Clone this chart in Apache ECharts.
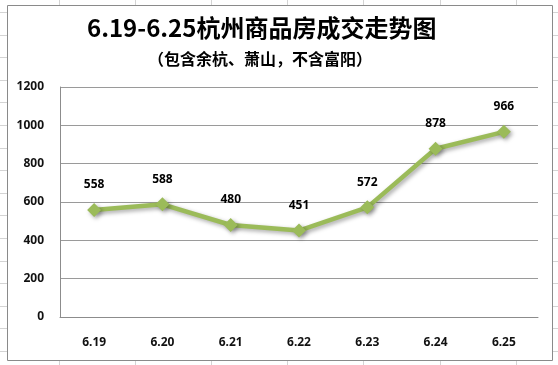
<!DOCTYPE html>
<html>
<head>
<meta charset="utf-8">
<script src="https://cdn.jsdelivr.net/npm/echarts@6/dist/echarts.min.js"></script>
<style>html,body{margin:0;padding:0;background:#fff;}#c{width:558px;height:365px;}</style>
</head>
<body>
<div id="c"></div>
<script>
const categories = ['6.19','6.20','6.21','6.22','6.23','6.24','6.25'];
const values = [558, 588, 480, 451, 572, 878, 966];
const titleText = '6.19-6.25杭州商品房成交走势图';
const subtitleText = '（包含余杭、萧山，不含富阳）';

const chart = echarts.init(document.getElementById('c'), null, {renderer: 'canvas'});

const bg = [];
const cols = [59, 135, 211, 287, 363, 440, 516];
cols.forEach(x => bg.push({type:'line', shape:{x1:x+0.5,y1:0,x2:x+0.5,y2:365}, style:{stroke:'#d4d4d4', lineWidth:1}, z:-200, silent:true}));
for (let y = 12; y < 365; y += 22.6) {
  bg.push({type:'line', shape:{x1:0,y1:Math.round(y)+0.5,x2:558,y2:Math.round(y)+0.5}, style:{stroke:'#d4d4d4', lineWidth:1}, z:-200, silent:true});
}
bg.push({type:'rect', shape:{x:7.5, y:5.5, width:545, height:355}, style:{fill:'#fff', stroke:'#8a8a8a', lineWidth:1}, z:-100, silent:true});

chart.setOption({
  animation: false,
  backgroundColor: '#fff',
  graphic: bg,
  title: [
    {text: titleText, left: 82, top: 11,
     textStyle:{fontFamily:'"Noto Sans CJK SC"', fontWeight:'bold', fontSize:24, color:'#000'}},
    {text: subtitleText, left: 143, top: 46,
     textStyle:{fontFamily:'"Noto Sans CJK SC"', fontWeight:'bold', fontSize:16, color:'#000'}}
  ],
  grid: {left: 60, right: 20, top: 87, bottom: 48},
  xAxis: {
    type: 'category', data: categories, boundaryGap: true,
    axisLine: {show: true, lineStyle:{color:'#8c8c8c', width:1}},
    axisTick: {show: false},
    axisLabel: {margin: 20, color:'#111', fontWeight:'bold', fontSize:12, fontFamily:'"Noto Sans"'}
  },
  yAxis: {
    type: 'value', min: 0, max: 1200, interval: 200,
    axisLine: {show: true, lineStyle:{color:'#8c8c8c', width:1}},
    axisTick: {show: false},
    axisLabel: {margin: 16, color:'#111', fontWeight:'bold', fontSize:12, fontFamily:'"Noto Sans"',
                formatter: v => String(v)},
    splitLine: {show: true, lineStyle:{color:'#9a9a9a', width:1}}
  },
  series: [{
    type: 'line', data: values,
    symbol: 'diamond', symbolSize: 14,
    lineStyle: {color:'#9BBB59', width:4.5, shadowColor:'rgba(0,0,0,0.35)', shadowBlur:4, shadowOffsetX:2, shadowOffsetY:2},
    itemStyle: {color:'#9BBB59', shadowColor:'rgba(0,0,0,0.35)', shadowBlur:4, shadowOffsetX:2, shadowOffsetY:2},
    label: {show: true, position: 'top', distance: 12, color:'#000', fontWeight:'bold', fontSize:12, fontFamily:'"Noto Sans"'}
  }]
});
</script>
</body>
</html>
